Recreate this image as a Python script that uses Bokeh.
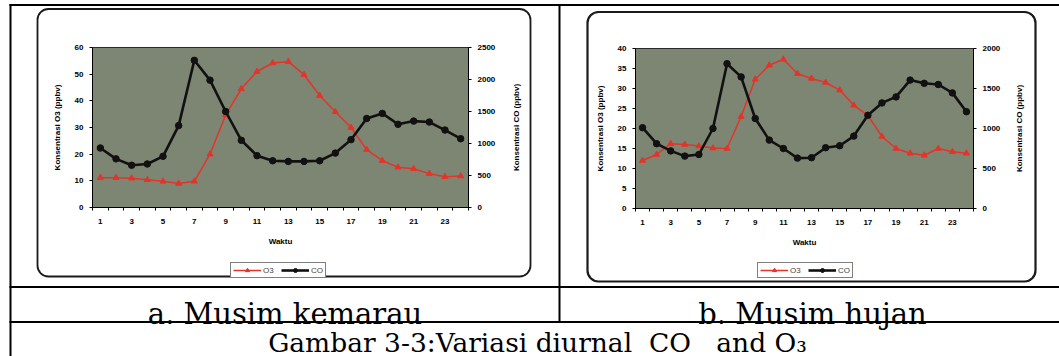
import math
from bokeh.plotting import figure
from bokeh.models import (Range1d, LinearAxis, FixedTicker, SingleIntervalTicker,
                          Legend, LegendItem, BoxAnnotation)
from bokeh.core.properties import value
from bokeh.embed import file_html
from bokeh.resources import INLINE

# ---------------- data ----------------
hours = list(range(1, 25))
hour_tick_labels = [1, 3, 5, 7, 9, 11, 13, 15, 17, 19, 21, 23]

o3_dry = [11.2, 11.2, 11.0, 10.4, 9.8, 9.0, 9.8, 20.0, 34.7, 44.5, 51.0, 54.2,
          54.7, 49.8, 42.0, 35.9, 30.0, 21.7, 17.6, 15.1, 14.5, 12.7, 11.5, 11.8]
co_dry = [930, 760, 660, 680, 800, 1280, 2300, 1990, 1500, 1050, 810, 730,
          720, 720, 730, 850, 1060, 1390, 1470, 1300, 1350, 1335, 1210, 1075]

o3_wet = [12.0, 13.5, 16.2, 16.0, 15.6, 15.1, 15.0, 23.0, 32.3, 35.8, 37.3, 33.7,
          32.5, 31.5, 29.6, 25.8, 23.3, 18.0, 15.0, 13.8, 13.3, 15.0, 14.2, 13.8]
co_wet = [1010, 810, 720, 655, 675, 1000, 1810, 1645, 1125, 855, 750, 630,
          635, 760, 785, 905, 1165, 1320, 1395, 1605, 1565, 1550, 1445, 1210]

series_names = ["O3", "CO"]
o3_axis_title = "Konsentrasi O3 (ppbv)"
co_axis_title = "Konsentrasi CO (ppbv)"
x_axis_title = "Waktu"
panel_captions = ["a. Musim kemarau", "b. Musim hujan"]
figure_caption = "Gambar 3-3:Variasi diurnal\u00a0\u00a0CO\u00a0\u00a0 and O\u2083"

dry_o3_max, dry_o3_step = 60, 10
dry_co_max, dry_co_step = 2500, 500
wet_o3_max, wet_o3_step = 40, 5
wet_co_max, wet_co_step = 2000, 500

# ---------------- page / style ----------------
W, H = 1059, 356
RED = "#e4342a"
BLACK = "#111111"
BG = "#7c8672"
FONT = "Liberation Sans"
SERIF = "DejaVu Serif"

p = figure(width=W, height=H, x_range=Range1d(0, W), y_range=Range1d(H, 0),
           x_axis_type=None, y_axis_type=None, title=None,
           output_backend="svg", toolbar_location=None, tools="",
           min_border=0, outline_line_color=None,
           background_fill_color="white", border_fill_color="white")


def mapped_range(v0, v1, p0, p1, total):
    """range whose values v0/v1 land on pixels p0/p1 of a canvas of size total"""
    s = (v1 - v0) / (p1 - p0)
    start = v0 - p0 * s
    return Range1d(start, start + total * s)


def canvas_box(l, r, t, b, **kw):
    return BoxAnnotation(left=l, right=r, top=t, bottom=b,
                         left_units="canvas", right_units="canvas",
                         top_units="canvas", bottom_units="canvas", **kw)


def solid(l, r, t, b):
    return canvas_box(l, r, t, b, fill_color="black", fill_alpha=1.0, line_color=None)


def style_axis(ax):
    ax.axis_line_color = "black"
    ax.major_tick_line_color = "black"
    ax.minor_tick_line_color = "black"
    ax.major_label_text_font = FONT
    ax.major_label_text_font_size = "8px"
    ax.major_label_text_font_style = "bold"
    ax.major_label_text_color = "black"
    ax.axis_label_text_font = FONT
    ax.axis_label_text_font_size = "8px"
    ax.axis_label_text_font_style = "bold"
    ax.axis_label_text_color = "black"


def chart(tag, o3, co, o3_max, o3_step, co_max, co_step, frame, legend_xy, right_title_x):
    fl, fr, ft, fb = frame          # plot area in canvas pixels (top-down)
    xn, yn, cn = "x" + tag, "o3" + tag, "co" + tag
    x0, x1 = hours[0] - 0.5, hours[-1] + 0.5
    p.extra_x_ranges[xn] = mapped_range(x0, x1, fl, fr, W)
    p.extra_y_ranges[yn] = mapped_range(0, o3_max, H - fb, H - ft, H)
    p.extra_y_ranges[cn] = mapped_range(0, co_max, H - fb, H - ft, H)

    p.quad(left=[x0], right=[x1], bottom=[0], top=[o3_max], x_range_name=xn, y_range_name=yn,
           fill_color=BG, line_color="#2a2a2a", line_width=1)

    edges = [h - 0.5 for h in hours] + [x1]
    xa = LinearAxis(x_range_name=xn, y_range_name=yn, fixed_location=0, bounds=(x0, x1),
                    ticker=FixedTicker(ticks=hour_tick_labels, minor_ticks=edges),
                    axis_label=x_axis_title)
    xa.major_tick_out = 0
    xa.major_tick_in = 0
    xa.minor_tick_out = 3
    xa.minor_tick_in = 0
    xa.major_label_standoff = 8
    xa.axis_label_standoff = 10
    style_axis(xa)
    p.add_layout(xa, "below")

    ya = LinearAxis(x_range_name=xn, y_range_name=yn, fixed_location=x0, bounds=(0, o3_max),
                    ticker=SingleIntervalTicker(interval=o3_step, num_minor_ticks=0),
                    axis_label=o3_axis_title)
    yc = LinearAxis(x_range_name=xn, y_range_name=cn, fixed_location=x1, bounds=(0, co_max),
                    ticker=SingleIntervalTicker(interval=co_step, num_minor_ticks=0))
    ya.axis_label_standoff = 10
    for ax in (ya, yc):
        ax.major_tick_out = 3
        ax.major_tick_in = 0
        ax.minor_tick_out = 0
        ax.minor_tick_in = 0
        ax.major_label_standoff = 6
        style_axis(ax)
    p.add_layout(ya, "left")
    p.add_layout(yc, "right")

    # right-hand axis title, reading bottom-to-top like the left one
    p.text(x=[right_title_x], y=[(ft + fb) / 2], text=[co_axis_title], angle=math.pi / 2,
           text_font=value(FONT), text_font_size="8px", text_font_style="bold",
           text_align="center", text_baseline="middle", text_color="black")

    r_o3 = p.line(hours, o3, color=RED, line_width=1.5, x_range_name=xn, y_range_name=yn)
    s_o3 = p.scatter(hours, o3, marker="triangle", size=6, color=RED,
                     x_range_name=xn, y_range_name=yn)
    r_co = p.line(hours, co, color=BLACK, line_width=2.6, x_range_name=xn, y_range_name=cn)
    s_co = p.scatter(hours, co, marker="circle", size=6.5, color=BLACK,
                     x_range_name=xn, y_range_name=cn)

    legend = Legend(items=[LegendItem(label=series_names[0], renderers=[r_o3, s_o3]),
                           LegendItem(label=series_names[1], renderers=[r_co, s_co])],
                    orientation="horizontal", location=legend_xy,
                    border_line_color="black", border_line_width=1,
                    background_fill_color="white", background_fill_alpha=1.0,
                    label_text_font=FONT, label_text_font_size="8px",
                    glyph_height=10, glyph_width=28, label_height=10, label_width=12,
                    label_standoff=2, spacing=6, padding=2, margin=0)
    p.add_layout(legend)


# dry season (left) and wet season (right); legend position is (left, bottom-up)
chart("l", o3_dry, co_dry, dry_o3_max, dry_o3_step, dry_co_max, dry_co_step,
      (92, 468, 47, 207), (230, 78), 516)
chart("r", o3_wet, co_wet, wet_o3_max, wet_o3_step, wet_co_max, wet_co_step,
      (635, 973, 48, 208), (757, 78), 1019)

# rounded chart frames
p.add_layout(canvas_box(37, 530, 8.5, 276, fill_alpha=0.0, line_color="#1a1a1a",
                        line_alpha=1.0, line_width=1.8, border_radius=11))
p.add_layout(canvas_box(587, 1035, 11.5, 281, fill_alpha=0.0, line_color="#1a1a1a",
                        line_alpha=1.0, line_width=2.2, border_radius=11))
# table grid
p.add_layout(solid(9, W, 3.5, 5.5))
p.add_layout(solid(9, 11, 3.5, H))
p.add_layout(solid(558, 560, 3.5, 322))
p.add_layout(solid(9, W, 285.5, 287.5))
p.add_layout(solid(9, W, 320.5, 322.5))

# captions
p.text(x=[284.5, 812], y=[313, 313], text=panel_captions,
       text_font=value(SERIF), text_font_size="29px", text_align="center",
       text_baseline="alphabetic", text_color="black")
p.text(x=[537], y=[341.5], text=[figure_caption],
       text_font=value(SERIF), text_font_size="26.5px", text_align="center",
       text_baseline="alphabetic", text_color="black")

open("out.html", "w").write(file_html(p, INLINE))
